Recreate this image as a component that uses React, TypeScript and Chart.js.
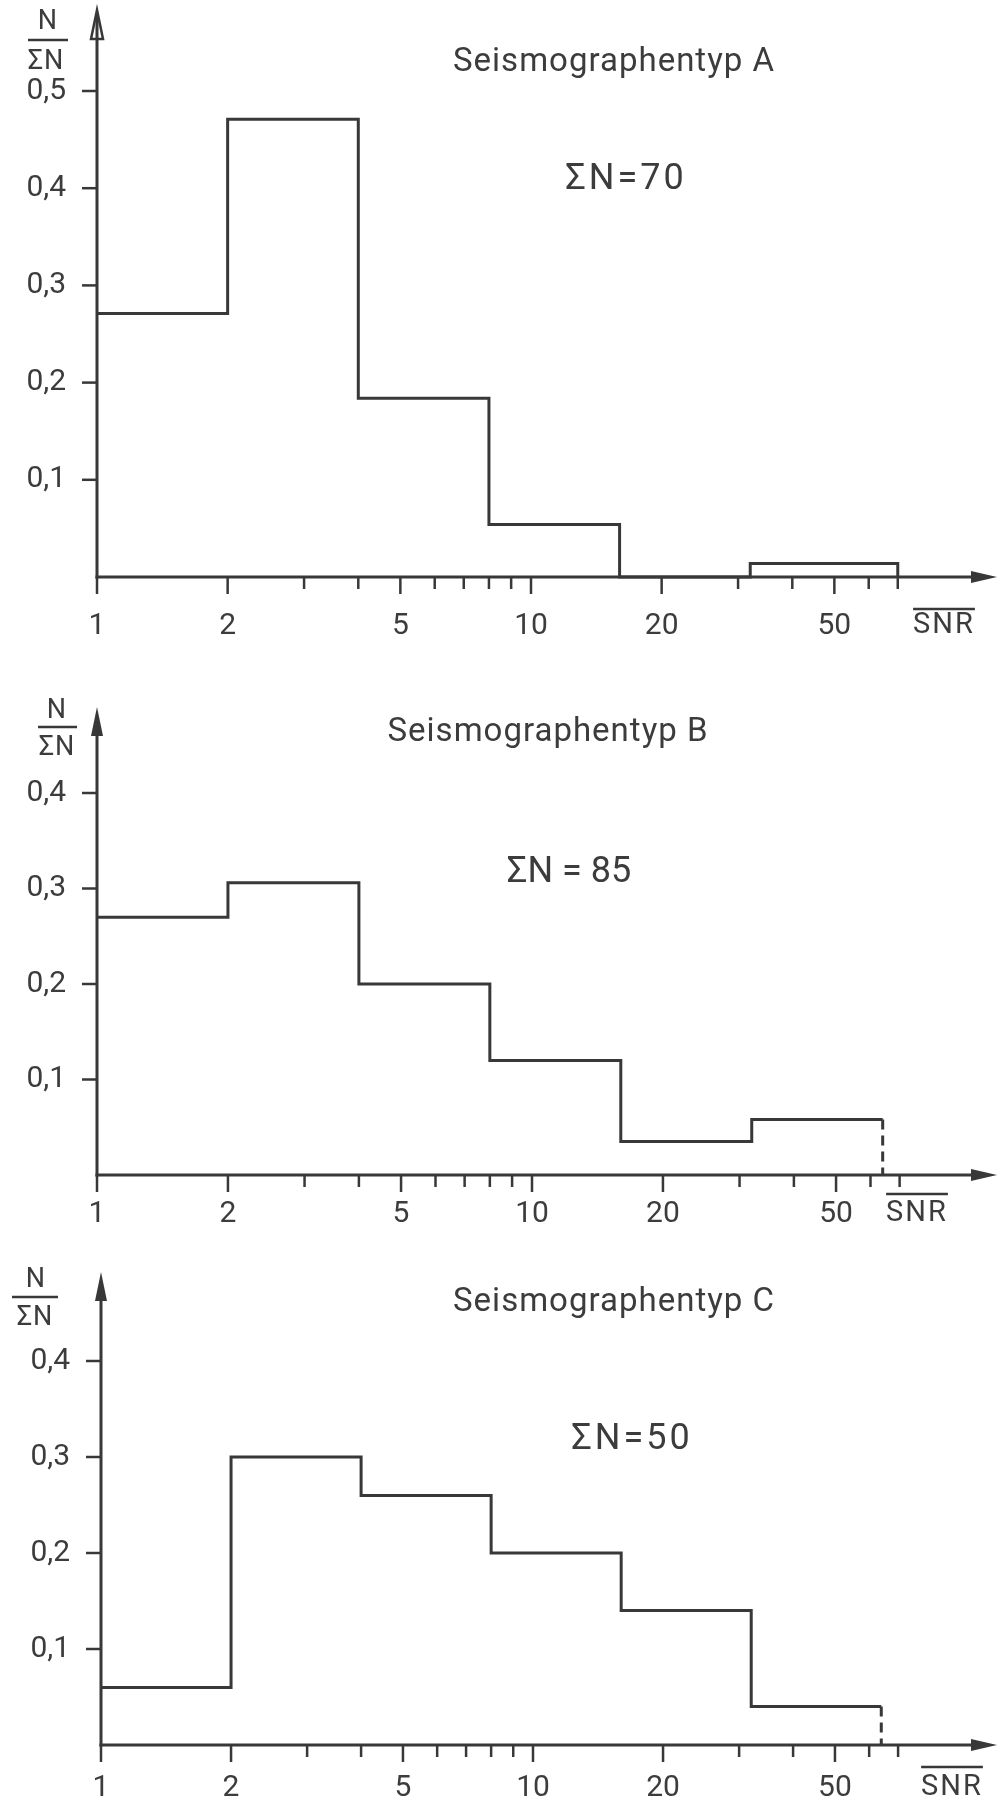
import React, { useEffect, useRef } from "react";
import { Chart, registerables } from "chart.js";

Chart.register(...registerables);

// ---------------- data ----------------
const binEdgesA = [1, 2, 4, 8, 16, 32, 70];
const binEdgesB = [1, 2, 4, 8, 16, 32, 64];
const binEdgesC = [1, 2, 4, 8, 16, 32, 64];

const valuesA = [0.271, 0.471, 0.184, 0.054, 0, 0.014];
const valuesB = [0.27, 0.306, 0.2, 0.12, 0.035, 0.058];
const valuesC = [0.06, 0.3, 0.26, 0.2, 0.14, 0.04];

const xMajorTicks = [1, 2, 5, 10, 20, 50];
const xMinorTicks = [3, 4, 6, 7, 8, 9, 30, 40, 60, 70];
const yTicksA = [0.1, 0.2, 0.3, 0.4, 0.5];
const yTicksBC = [0.1, 0.2, 0.3, 0.4];

const titles = ["Seismographentyp A", "Seismographentyp B", "Seismographentyp C"];
const sumLabels = ["ΣN=70", "ΣN = 85", "ΣN=50"];
const xAxisName = "SNR";
const yNumerator = "N";
const yDenominator = "ΣN";

// ---------------- styling / layout ----------------
const INK = "#383838";
const TEXT = "#3c3c3c";
const FONT = "Roboto, 'DejaVu Sans', sans-serif";
const WEIGHT = "400";

type PanelCfg = {
  key: string;
  top: number;
  height: number;
  pad: { left: number; right: number; top: number; bottom: number };
  edges: number[];
  values: number[];
  yTicks: number[];
  yMax: number;
  dashedLast: boolean;
  hollowArrow: boolean;
  arrowTop: number;
  title: string;
  titlePos: [number, number];
  sum: string;
  sumPos: [number, number];
  sumSpacing: number;
  frac: { nx: number; ny: number; barY: number; bx1: number; bx2: number; sx: number; sy: number };
  xLabelY: number;
  snr: { x: number; y: number; lineY: number };
};

const panels: PanelCfg[] = [
  {
    key: "A",
    top: 0,
    height: 660,
    pad: { left: 97, right: 35, top: 91, bottom: 83 },
    edges: binEdgesA,
    values: valuesA,
    yTicks: yTicksA,
    yMax: 0.5,
    dashedLast: false,
    hollowArrow: true,
    arrowTop: 10,
    title: titles[0],
    titlePos: [614, 63],
    sum: sumLabels[0],
    sumPos: [626, 180],
    sumSpacing: 3,
    frac: { nx: 48, ny: 22, barY: 40, bx1: 28, bx2: 68, sx: 46, sy: 62 },
    xLabelY: 626,
    snr: { x: 944, y: 626, lineY: 609 },
  },
  {
    key: "B",
    top: 660,
    height: 580,
    pad: { left: 97, right: 33, top: 133, bottom: 65 },
    edges: binEdgesB,
    values: valuesB,
    yTicks: yTicksBC,
    yMax: 0.4,
    dashedLast: true,
    hollowArrow: false,
    arrowTop: 47,
    title: titles[1],
    titlePos: [548, 73],
    sum: sumLabels[1],
    sumPos: [569, 213],
    sumSpacing: 0,
    frac: { nx: 57, ny: 51, barY: 67, bx1: 38, bx2: 77, sx: 57, sy: 88 },
    xLabelY: 554,
    snr: { x: 917, y: 554, lineY: 534 },
  },
  {
    key: "C",
    top: 1240,
    height: 561,
    pad: { left: 101, right: 35, top: 121, bottom: 56 },
    edges: binEdgesC,
    values: valuesC,
    yTicks: yTicksBC,
    yMax: 0.4,
    dashedLast: true,
    hollowArrow: false,
    arrowTop: 32,
    title: titles[2],
    titlePos: [614, 63],
    sum: sumLabels[2],
    sumPos: [632, 200],
    sumSpacing: 3,
    frac: { nx: 36, ny: 40, barY: 57, bx1: 12, bx2: 58, sx: 35, sy: 78 },
    xLabelY: 548,
    snr: { x: 952, y: 548, lineY: 527 },
  },
];

function fmtY(v: number) {
  return v.toFixed(1).replace(".", ",");
}

function makePlugin(cfg: PanelCfg) {
  return {
    id: "decor" + cfg.key,
    afterDraw(chart: any) {
      const ctx: CanvasRenderingContext2D = chart.ctx;
      const xs = chart.scales.x;
      const ys = chart.scales.y;
      const x0 = xs.getPixelForValue(1);
      const y0 = ys.getPixelForValue(0);
      const tipX = 997;
      ctx.save();
      ctx.strokeStyle = INK;
      ctx.fillStyle = INK;
      ctx.lineWidth = 3;
      ctx.lineCap = "butt";

      // y axis
      ctx.beginPath();
      ctx.moveTo(x0, y0 + 1.5);
      ctx.lineTo(x0, cfg.arrowTop + (cfg.hollowArrow ? 4 : 20));
      ctx.stroke();
      // y arrow
      ctx.beginPath();
      ctx.moveTo(x0, cfg.arrowTop);
      ctx.lineTo(x0 - 6, cfg.arrowTop + 29);
      ctx.lineTo(x0 + 6, cfg.arrowTop + 29);
      ctx.closePath();
      if (cfg.hollowArrow) {
        ctx.lineWidth = 2.5;
        ctx.lineJoin = "miter";
        ctx.stroke();
        ctx.lineWidth = 3;
      } else {
        ctx.fill();
      }

      // x axis
      ctx.beginPath();
      ctx.moveTo(x0 - 1.5, y0);
      ctx.lineTo(tipX - 20, y0);
      ctx.stroke();
      ctx.beginPath();
      ctx.moveTo(tipX, y0);
      ctx.lineTo(tipX - 26, y0 - 6);
      ctx.lineTo(tipX - 26, y0 + 6);
      ctx.closePath();
      ctx.fill();

      // x ticks
      ctx.lineWidth = 2.5;
      xMajorTicks.forEach((v) => {
        const px = xs.getPixelForValue(v);
        ctx.beginPath();
        ctx.moveTo(px, y0);
        ctx.lineTo(px, y0 + 17);
        ctx.stroke();
      });
      xMinorTicks.forEach((v) => {
        const px = xs.getPixelForValue(v);
        ctx.beginPath();
        ctx.moveTo(px, y0);
        ctx.lineTo(px, y0 + 12);
        ctx.stroke();
      });

      // y ticks
      cfg.yTicks.forEach((v) => {
        const py = ys.getPixelForValue(v);
        ctx.beginPath();
        ctx.moveTo(x0 - 15, py);
        ctx.lineTo(x0, py);
        ctx.stroke();
      });

      // labels
      ctx.fillStyle = TEXT;
      ctx.textBaseline = "middle";
      ctx.font = `${WEIGHT} 30px ${FONT}`;
      ctx.textAlign = "center";
      xMajorTicks.forEach((v) => {
        ctx.fillText(String(v), xs.getPixelForValue(v), cfg.xLabelY);
      });
      ctx.textAlign = "right";
      cfg.yTicks.forEach((v) => {
        ctx.fillText(fmtY(v), x0 - 31, ys.getPixelForValue(v));
      });

      // SNR with overline
      ctx.textAlign = "center";
      (ctx as any).letterSpacing = "2px";
      ctx.font = `${WEIGHT} 29px ${FONT}`;
      ctx.fillText(xAxisName, cfg.snr.x, cfg.snr.y);
      const w = ctx.measureText(xAxisName).width;
      ctx.lineWidth = 2.5;
      ctx.beginPath();
      ctx.moveTo(cfg.snr.x - w / 2, cfg.snr.lineY);
      ctx.lineTo(cfg.snr.x + w / 2, cfg.snr.lineY);
      ctx.stroke();

      // fraction N / ΣN
      (ctx as any).letterSpacing = "1px";
      ctx.font = `${WEIGHT} 27px ${FONT}`;
      ctx.fillText(yNumerator, cfg.frac.nx, cfg.frac.ny);
      ctx.fillText(yDenominator, cfg.frac.sx, cfg.frac.sy);
      ctx.lineWidth = 2.5;
      ctx.beginPath();
      ctx.moveTo(cfg.frac.bx1, cfg.frac.barY);
      ctx.lineTo(cfg.frac.bx2, cfg.frac.barY);
      ctx.stroke();

      // title
      (ctx as any).letterSpacing = "1px";
      ctx.font = `${WEIGHT} 33px ${FONT}`;
      ctx.fillText(cfg.title, cfg.titlePos[0], cfg.titlePos[1]);

      // sum label
      (ctx as any).letterSpacing = cfg.sumSpacing + "px";
      ctx.font = `${WEIGHT} 36px ${FONT}`;
      ctx.fillText(cfg.sum, cfg.sumPos[0], cfg.sumPos[1]);
      (ctx as any).letterSpacing = "0px";

      ctx.restore();
    },
  };
}

function Panel({ cfg }: { cfg: PanelCfg }) {
  const ref = useRef<HTMLCanvasElement | null>(null);
  useEffect(() => {
    if (!ref.current) return;
    const n = cfg.values.length;
    const stepPts = cfg.values.map((v, i) => ({ x: cfg.edges[i], y: v }));
    stepPts.push({ x: cfg.edges[n], y: cfg.values[n - 1] });
    if (!cfg.dashedLast) stepPts.push({ x: cfg.edges[n], y: 0 });
    const datasets: any[] = [
      {
        data: stepPts,
        stepped: "before",
        borderColor: INK,
        borderWidth: 3,
        pointRadius: 0,
        fill: false,
        tension: 0,
        clip: false,
        borderJoinStyle: "miter",
      },
    ];
    if (cfg.dashedLast) {
      datasets.push({
        data: [
          { x: cfg.edges[n], y: cfg.values[n - 1] },
          { x: cfg.edges[n], y: 0 },
        ],
        borderColor: INK,
        borderWidth: 3,
        borderDash: [10, 6],
        pointRadius: 0,
        fill: false,
        clip: false,
      });
    }
    const chart = new Chart(ref.current, {
      type: "line",
      data: { datasets },
      options: {
        animation: false,
        responsive: false,
        devicePixelRatio: 1,
        layout: { padding: cfg.pad },
        plugins: { legend: { display: false }, tooltip: { enabled: false } },
        scales: {
          x: { type: "logarithmic", min: 1, max: 100, display: false },
          y: { type: "linear", min: 0, max: cfg.yMax, display: false },
        },
      },
      plugins: [makePlugin(cfg)],
    } as any);
    return () => chart.destroy();
  }, [cfg]);
  return (
    <canvas
      ref={ref}
      width={1000}
      height={cfg.height}
      style={{ position: "absolute", left: 0, top: cfg.top, width: 1000, height: cfg.height, display: "block" }}
    />
  );
}

export default function App() {
  return (
    <div style={{ position: "absolute", left: 0, top: 0, width: 1000, height: 1801, background: "#ffffff", overflow: "hidden" }}>
      {panels.map((p) => (
        <Panel key={p.key} cfg={p} />
      ))}
    </div>
  );
}
